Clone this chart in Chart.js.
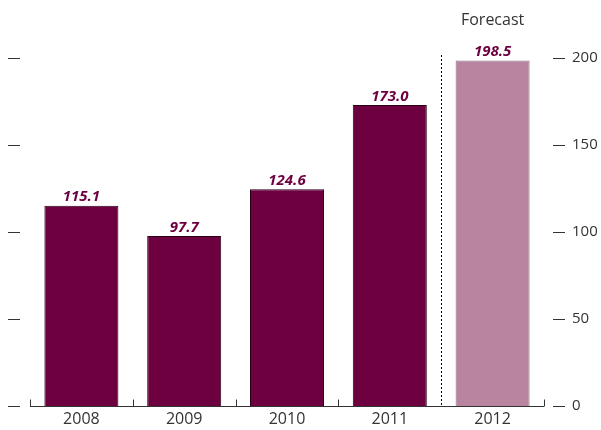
<!DOCTYPE html>
<html>
<head>
<meta charset="utf-8">
<script src="https://cdn.jsdelivr.net/npm/chart.js@4/dist/chart.umd.min.js"></script>
<style>
  html, body { margin: 0; padding: 0; background: #fff; }
  #wrap { width: 601px; height: 430px; }
</style>
</head>
<body>
<div id="wrap"><canvas id="myChart" width="601" height="430"></canvas></div>
<script>
"use strict";
const years = ["2008", "2009", "2010", "2011", "2012"];
const values = [115.1, 97.7, 124.6, 173.0, 198.5];
const forecast = [false, false, false, false, true];
const yTicks = [0, 50, 100, 150, 200];

const dark = "#6d003f";
const light = "#b8849f";
const font = "'Open Sans', 'Noto Sans', sans-serif";

// axis line, dashes, divider and value labels
const decorations = {
  id: "decorations",
  afterDatasetsDraw(chart) {
    const { ctx, chartArea, scales } = chart;
    const x = scales.x;
    const y = scales.y;
    const base = y.getPixelForValue(0);
    ctx.save();
    ctx.strokeStyle = "#333";
    ctx.lineWidth = 1;

    // y dashes on both sides
    for (const v of yTicks) {
      const py = Math.round(y.getPixelForValue(v)) + 0.5;
      ctx.beginPath();
      ctx.moveTo(8, py);
      ctx.lineTo(20, py);
      ctx.moveTo(chartArea.right + 9, py);
      ctx.lineTo(chartArea.right + 21, py);
      ctx.stroke();
    }

    // baseline with small ticks between years
    const by = Math.round(base) + 0.5;
    ctx.beginPath();
    ctx.moveTo(chartArea.left, by);
    ctx.lineTo(chartArea.right, by);
    const step = x.getPixelForValue(1) - x.getPixelForValue(0);
    for (let i = 0; i <= years.length; i++) {
      if (i === years.length - 1) continue;
      const px = Math.round(x.getPixelForValue(i) - step / 2) + 0.5;
      ctx.moveTo(px, by);
      ctx.lineTo(px, by - 7);
    }
    ctx.stroke();

    // dotted divider before forecast year
    const fi = forecast.indexOf(true);
    const dx = Math.round(x.getPixelForValue(fi) - step / 2) + 0.5;
    ctx.setLineDash([2, 2]);
    ctx.strokeStyle = "#000";
    ctx.beginPath();
    ctx.moveTo(dx, y.getPixelForValue(200) - 3);
    ctx.lineTo(dx, by);
    ctx.stroke();
    ctx.setLineDash([]);

    // value labels
    ctx.fillStyle = "#6d003f";
    ctx.font = "italic bold 15px " + font;
    ctx.textAlign = "center";
    ctx.textBaseline = "bottom";
    values.forEach((v, i) => {
      ctx.fillText(v.toFixed(1), x.getPixelForValue(i), y.getPixelForValue(v) - 1);
    });

    // forecast caption
    ctx.fillStyle = "#333";
    ctx.font = "16px " + font;
    ctx.textBaseline = "middle";
    ctx.fillText("Forecast", x.getPixelForValue(fi), 20);
    ctx.restore();
  },
};

const createChart = () => {
  const ctx = document.getElementById("myChart").getContext("2d");
  return new Chart(ctx, {
    type: "bar",
    data: {
      labels: years,
      datasets: [
        {
          data: values,
          backgroundColor: forecast.map((f) => (f ? light : dark)),
          borderColor: forecast.map((f) => (f ? "#8c7080" : "#2a0018")),
          borderWidth: 1,
          borderSkipped: "bottom",
          categoryPercentage: 1,
          barPercentage: 0.72,
        },
      ],
    },
    options: {
      responsive: false,
      animation: false,
      layout: { padding: { top: 58, bottom: 0, left: 0, right: 0 } },
      plugins: { legend: { display: false }, tooltip: { enabled: false } },
      scales: {
        x: {
          grid: { display: false, drawTicks: false },
          border: { display: false },
          ticks: { color: "#333", font: { family: font, size: 16 }, padding: 4 },
          afterFit(scale) { scale.height = 24; },
        },
        y: {
          position: "right",
          min: 0,
          max: 200,
          afterBuildTicks(scale) { scale.ticks = yTicks.map((v) => ({ value: v })); },
          // tick marks are drawn by the plugin; tickLength only reserves the gap
          grid: { display: false, drawTicks: true, tickLength: 21 },
          border: { display: false },
          ticks: { color: "#333", font: { family: font, size: 15 }, padding: 7 },
          afterFit(scale) { scale.width = 57; },
        },
        yl: {
          position: "left",
          min: 0,
          max: 200,
          grid: { display: false, drawTicks: false },
          border: { display: false },
          ticks: { display: false },
          afterFit(scale) { scale.width = 30; },
        },
      },
    },
    plugins: [decorations],
  });
};

createChart();
</script>
</body>
</html>
